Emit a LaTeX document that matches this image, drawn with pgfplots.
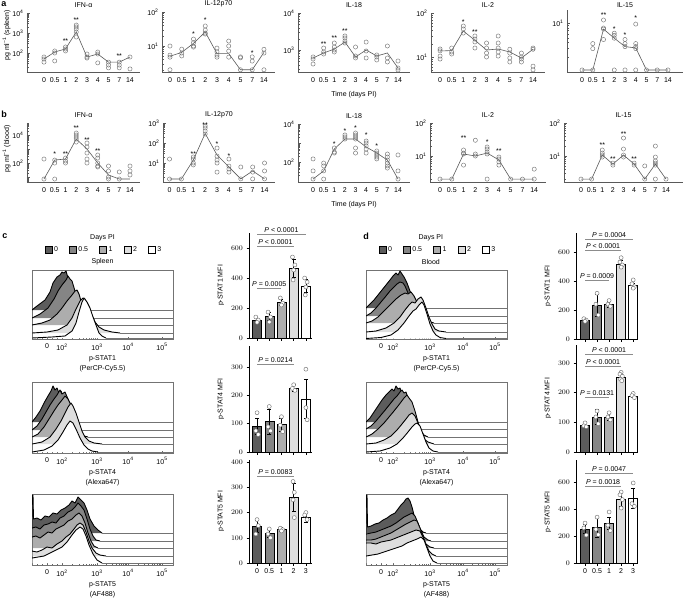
\documentclass[border=0pt]{standalone}
\usepackage{pgfplots}
\pgfplotsset{compat=1.18}
\usepackage{fontspec}
\setmainfont{Liberation Sans}
\definecolor{c0}{gray}{0.36}
\definecolor{c1}{gray}{0.52}
\definecolor{c2}{gray}{0.68}
\definecolor{c3}{gray}{0.87}
\definecolor{c4}{gray}{1}
\definecolor{ptgray}{gray}{0.45}
\definecolor{lngray}{gray}{0.35}
\newcommand\fs{\fontsize{7}{8.4}\selectfont}
\newcommand\tp[1]{10\textsuperscript{#1}}
\tikzset{zPtxt/.style={anchor=south, font=\fs, inner sep=1pt}}
\pgfplotsset{
  zCyt/.style={scale only axis, clip=false, anchor=south west,
    axis x line*=bottom, axis y line*=left,
    axis line style={lngray, line width=0.5pt},
    xtick={0,...,8}, xticklabels={0,0.5,1,2,3,4,5,7,14},
    x tick style={draw=none},
    y tick style={lngray, line width=0.4pt},
    tick align=inside, major tick length=3pt, minor tick length=1.8pt,
    minor ytick={2,3,4,5,6,7,8,9,20,30,40,50,60,70,80,90,200,300,400,500,600,700,800,900,2000,3000,4000,5000,6000,7000,8000,9000,20000,30000,40000,50000,60000,70000},
    ticklabel style={font=\fs},
    xticklabel style={yshift=-2.5pt},
    every axis title/.style={at={(0.5,1)}, anchor=south, yshift=2pt, font=\fs},
    ylabel style={font=\fs}, xlabel style={font=\fs, yshift=-2pt}},
  zPts/.style={only marks, mark=o, mark size=2.1pt, mark options={ptgray, line width=0.45pt}},
  zLine/.style={lngray, line width=0.6pt, mark=none},
  zStars/.style={draw=none, mark=none, nodes near coords, point meta=explicit symbolic,
    nodes near coords style={anchor=center, font=\fs, inner sep=0pt, yshift=-1.5pt}},
  zHist/.style={scale only axis, anchor=south west, xmin=0, xmax=141, ymin=0, clip mode=individual,
    axis line style={black!55, line width=0.5pt}, ytick=\empty, xtick pos=bottom,
    tick align=inside, major tick length=2.5pt, minor tick length=1.5pt,
    tick style={black!60, line width=0.4pt},
    ticklabel style={font=\fs}, xticklabel style={yshift=-1pt},
    xlabel style={font=\fontsize{7}{9.2}\selectfont, align=center, yshift=1pt}},
  zHistC/.style={zHist, xtick={15,30,65,96,130}, xticklabels={0,\tp{2},\tp{3},\tp{4},\tp{5}},
    minor xtick={5,10,20,25,40.5,46.7,51.1,54.5,57.2,59.6,61.6,63.4,74.3,79.8,83.7,86.7,89.1,91.2,93.0,94.6,106.2,112.2,116.5,119.8,122.5,124.7,126.7,128.4}},
  zHistD/.style={zHist, xtick={15,27,64,97,129}, xticklabels={0,\tp{2},\tp{3},\tp{4},\tp{5}},
    minor xtick={5,10,20,38.1,44.6,49.3,52.9,55.8,58.3,60.4,62.3,73.9,79.7,83.9,87.1,89.7,91.9,93.8,95.5,106.6,112.3,116.3,119.4,121.9,124.0,125.9,127.5}},
  zLeg/.style={legend entries={0,0.5,1,2,3},
    legend image code/.code={\draw[##1, line width=0.5pt] (0pt,-3.5pt) rectangle (7pt,3.5pt);},
    legend style={at={(0.51,1.29)}, anchor=center, draw=none, fill=none, font=\fs,
      legend columns=5, /tikz/every even column/.append style={column sep=9pt}}},
  zHc/.style={fill=#1, draw=black, line width=0.9pt, line join=round},
  zTl/.style={black!55, line width=0.4pt},
  zBarax/.style={scale only axis, clip=false, anchor=south west, axis x line*=bottom, axis y line*=left,
    axis line style={black, line width=0.5pt}, ymin=0, xtick={0,...,4},
    tick align=outside, major tick length=2.5pt, tick style={black, line width=0.5pt},
    ticklabel style={font=\fs}, ylabel style={font=\fs}},
  zBarc/.style={ybar, bar width=9pt, bar shift=0pt, draw=black, line width=0.5pt, fill=#1},
  zErrs/.style={draw=none, mark=none, error bars/.cd, y dir=both, y explicit,
    error bar style={draw=black, line width=0.5pt},
    error mark options={rotate=90, mark size=2pt, draw=black, line width=0.5pt}},
  zBpts/.style={only marks, mark=*, mark size=2pt, mark options={fill=white, draw=black!55, line width=0.45pt}},
  zPline/.style={black!45, line width=0.6pt},
}
\begin{document}
\begin{tikzpicture}
\path[use as bounding box] (0pt,0pt) rectangle (685pt,-598pt);
\node[font=\bfseries\fontsize{9}{10}\selectfont] at (4pt,-4pt) {a};
\node[font=\bfseries\fontsize{9}{10}\selectfont] at (4pt,-114pt) {b};
\node[font=\bfseries\fontsize{9}{10}\selectfont] at (5pt,-236pt) {c};
\node[font=\bfseries\fontsize{9}{10}\selectfont] at (366pt,-236pt) {d};

% ================= Row a =================
\begin{axis}[ymode=log, zCyt, at={(27pt,-72pt)}, width=113pt, height=59pt,
  xmin=-1.58, xmax=8.93, ymin=11.2, ymax=10000,
  ytick={100,1000,10000}, yticklabels={\tp{2},\tp{3},\tp{4}},
  title={IFN-α}, ylabel={pg ml\textsuperscript{−1} (spleen)},
  ylabel style={at={(rel axis cs:-0.18,0.62)}, anchor=center}]
\addplot[zLine] coordinates {(0,50)(1,112)(2,160)(3,1120)(4,63)(5,89)(6,35)(7,35)(8,63)};
\addplot[zPts] coordinates {(0,63)(0,50)(0,35)(1,126)(1,100)(1,40)(2,200)(2,158)(2,126)
 (3,2500)(3,2000)(3,1580)(3,1120)(3,630)(4,89)(4,63)(4,56)(5,112)(5,89)(5,32)
 (6,35)(6,25)(6,18)(7,35)(7,25)(7,18)(8,63)(8,16)};
\addplot[zStars] coordinates {(2,447)[**] (3,5012)[**] (7,79)[**]};
\end{axis}

\begin{axis}[ymode=log, zCyt, at={(162pt,-72pt)}, width=113pt, height=60pt,
  xmin=-0.68, xmax=8.94, ymin=1.72, ymax=100,
  ytick={10,100}, yticklabels={\tp{1},\tp{2}}, title={IL-12p70}]
\addplot[zLine] coordinates {(0,5)(1,6.5)(2,12)(3,25.8)(4,6)(5,6)(6,2)(7,2)(8,6.5)};
\addplot[zPts] coordinates {(0,10)(0,5.4)(0,4.7)(0,2)(1,8.1)(1,6.2)(1,5.1)(2,16)(2,12.5)(2,10)(2,9.3)
 (3,38.8)(3,29.5)(3,24)(3,22.5)(4,8.7)(4,6.7)(4,5.4)(4,4.7)(5,14)(5,10)(5,7.1)(5,4.7)
 (6,4.8)(6,4.5)(6,2)(7,4.8)(7,3.6)(7,2)(8,8)(8,6.2)(8,2)};
\addplot[zStars] coordinates {(2,24.1)[*] (3,62)[*] (7,6.7)[*]};
\end{axis}

\begin{axis}[ymode=log, zCyt, at={(298pt,-72pt)}, width=112pt, height=59pt,
  xmin=-1.42, xmax=9.13, ymin=254, ymax=10000,
  ytick={1000,10000}, yticklabels={\tp{3},\tp{4}}, title={IL-18}, xlabel={Time (days PI)}]
\addplot[zLine] coordinates {(0,608)(1,830)(2,1060)(3,1640)(4,648)(5,1000)(6,688)(7,830)(8,326)};
\addplot[zPts] coordinates {(0,648)(0,571)(0,418)(1,1130)(1,883)(1,779)(2,1546)(2,1205)(2,1000)(2,883)
 (3,2390)(3,2110)(3,1750)(3,1546)(4,1205)(4,688)(4,608)(5,1640)(5,940)(5,608)
 (6,733)(6,648)(6,537)(7,1283)(7,608)(7,474)(8,504)(8,326)(8,288)};
\addplot[zStars] coordinates {(1,1546)[**] (2,2245)[**] (3,3470)[**]};
\end{axis}

\begin{axis}[ymode=log, zCyt, at={(431pt,-72pt)}, width=114pt, height=59pt,
  xmin=-0.78, xmax=9.03, ymin=4.56, ymax=100,
  ytick={10,100}, yticklabels={\tp{1},\tp{2}}, title={IL-2}]
\addplot[zLine] coordinates {(0,13.7)(1,14)(2,39)(3,24)(4,14.4)(5,15.2)(6,13)(7,9.5)(8,15)};
\addplot[zPts] coordinates {(0,15.2)(0,13.8)(0,10.5)(0,9)(1,16)(1,13)(1,11.7)(2,50.6)(2,43.3)(2,35)
 (3,30)(3,25.6)(3,22)(3,16)(4,20.8)(4,16)(4,12.3)(4,10)(5,30)(5,20.8)(5,16)(5,13)(5,10.5)
 (6,15)(6,12.3)(6,9.5)(6,7.7)(7,12.3)(7,10)(7,9)(7,7.7)(8,16)(8,15)(8,6.2)(8,5.1)};
\addplot[zStars] coordinates {(2,69)[*] (3,39)[**]};
\end{axis}

\begin{axis}[ymode=log, zCyt, at={(567pt,-72pt)}, width=116pt, height=62pt,
  xmin=-1.4, xmax=9.4, ymin=1, ymax=18.4,
  ytick={10}, yticklabels={\tp{1}}, title={IL-15}, title style={yshift=-3pt}]
\addplot[zLine] coordinates {(0,1.1)(1,1.1)(2,7.5)(3,4.9)(4,3.3)(5,3.1)(6,1.1)(7,1.1)(8,1.1)};
\addplot[zPts] coordinates {(0,1.1)(1,3.8)(1,3.0)(1,1.1)(2,11.5)(2,7.9)(2,7.5)(2,4.6)
 (3,6.2)(3,5.6)(3,4.9)(3,1.1)(4,4.6)(4,3.8)(4,3.3)(4,1.1)(5,9.5)(5,3.8)(5,3.3)(5,3.0)(5,1.1)
 (6,1.1)(7,1.1)(8,1.1)};
\addplot[zStars] coordinates {(2,15.4)[**] (3,7.9)[*] (4,6.2)[*] (5,13.3)[*]};
\end{axis}

% ================= Row b =================
\begin{axis}[ymode=log, zCyt, at={(27pt,-182pt)}, width=113pt, height=59pt,
  xmin=-1.58, xmax=8.93, ymin=4.4, ymax=72000,
  ytick={10,100,1000,10000}, yticklabels={,\tp{2},,\tp{4}},
  title={IFN-α}, ylabel={pg ml\textsuperscript{−1} (blood)},
  ylabel style={at={(rel axis cs:-0.18,0.56)}, anchor=center}]
\addplot[zLine] coordinates {(0,7.2)(1,163)(2,193)(3,5200)(4,1000)(5,100)(6,14)(7,7.2)(8,7.2)};
\addplot[zPts] coordinates {(0,193)(0,7.2)(1,163)(1,100)(1,7.2)(2,227)(2,139)(2,100)
 (3,13900)(3,10000)(3,7200)(3,5200)(3,3160)(4,2680)(4,1390)(4,518)(4,193)(4,100)
 (5,372)(5,227)(5,100)(5,61)(5,52)(6,61)(6,27)(6,10)(6,7.2)(7,23)(7,7.2)(8,61)(8,27)(8,14)};
\addplot[zStars] coordinates {(1,518)[*] (2,518)[**] (3,37300)[**] (4,5180)[**] (5,848)[**]};
\end{axis}

\begin{axis}[ymode=log, zCyt, at={(163pt,-182pt)}, width=112pt, height=59pt,
  xmin=-0.55, xmax=8.88, ymin=1.12, ymax=1000,
  ytick={10,100,1000}, yticklabels={\tp{1},\tp{2},\tp{3}}, title={IL-12p70}]
\addplot[zLine] coordinates {(0,1.58)(1,1.58)(2,14)(3,300)(4,25)(5,6.3)(6,1.6)(7,4)(8,1.6)};
\addplot[zPts] coordinates {(0,15.8)(0,1.58)(1,1.58)(2,20)(2,15.8)(2,10)(2,8)
 (3,708)(3,562)(3,400)(3,282)(4,56)(4,22)(4,14)(4,10)(4,3.5)(5,15.8)(5,7)(5,5)(5,3.5)
 (6,6.3)(6,1.6)(7,6.3)(7,3.5)(7,1.6)(8,10)(8,4)(8,1.6)};
\addplot[zStars] coordinates {(2,31.6)[**] (3,891)[**] (4,100)[*] (5,25)[*]};
\end{axis}

\begin{axis}[ymode=log, zCyt, at={(298pt,-182pt)}, width=112pt, height=58pt,
  xmin=-1.42, xmax=9.13, ymin=8.85, ymax=10000,
  ytick={100,1000,10000}, yticklabels={\tp{2},,\tp{4}}, title={IL-18}, xlabel={Time (days PI)}]
\addplot[zLine] coordinates {(0,12.7)(1,34)(2,480)(3,1620)(4,1620)(5,620)(6,296)(7,127)(8,12.7)};
\addplot[zPts] coordinates {(0,145)(0,34)(0,12.7)(1,88)(1,62)(1,34)(1,12.7)(2,546)(2,336)(2,296)
 (3,2640)(3,2070)(3,1620)(4,3360)(4,2640)(4,2070)(4,1620)(4,546)(4,296)
 (5,1270)(5,1000)(5,700)(5,480)(5,296)(6,380)(6,296)(6,234)(6,183)(6,145)
 (7,263)(7,183)(7,127)(7,88)(7,62)(7,48)(8,234)(8,34)(8,12.7)};
\addplot[zStars] coordinates {(2,1000)[*] (3,4830)[*] (4,6950)[*] (5,2980)[*] (6,785)[*]};
\end{axis}

\begin{axis}[ymode=log, zCyt, at={(430pt,-182pt)}, width=116pt, height=59pt,
  xmin=-0.85, xmax=9.0, ymin=1.63, ymax=100,
  ytick={10,100}, yticklabels={\tp{1},\tp{2}}, title={IL-2}]
\addplot[zLine] coordinates {(0,2)(1,2)(2,11.5)(3,10)(4,12.3)(5,7.6)(6,2)(7,2)(8,2)};
\addplot[zPts] coordinates {(0,2)(1,2)(2,15.2)(2,12.3)(2,11.5)(2,5.3)(3,30)(3,11.5)(3,10)
 (4,18.7)(4,16.3)(4,13.2)(4,11.5)(4,2)(5,9.3)(5,8.1)(5,6.6)(5,5.3)(6,2)(7,2)(8,4)(8,2)};
\addplot[zStars] coordinates {(2,37.6)[**] (4,28.5)[*] (5,15.2)[**]};
\end{axis}

\begin{axis}[ymode=log, zCyt, at={(564pt,-182pt)}, width=119pt, height=59pt,
  xmin=-1.6, xmax=9.6, ymin=1.63, ymax=100,
  ytick={10,100}, yticklabels={\tp{1},\tp{2}}, title={IL-15}]
\addplot[zLine] coordinates {(0,2)(1,2)(2,10.7)(3,5.7)(4,10.7)(5,5.7)(6,2)(7,5.7)(8,2)};
\addplot[zPts] coordinates {(0,2)(1,2)(2,15.2)(2,12.3)(2,10.7)(2,9.3)(3,6.1)(3,5.3)
 (4,35)(4,16.3)(4,10.7)(4,9.3)(5,6.1)(5,5.3)(6,5)(6,2)
 (7,20)(7,9.3)(7,7.1)(7,6.1)(7,5.3)(7,2)(8,2)};
\addplot[zStars] coordinates {(2,23)[**] (3,8.7)[**] (4,53)[**] (5,8.7)[**]};
\end{axis}

% ================= Histograms c =================
\begin{axis}[zHistC, zLeg, at={(32pt,-339pt)}, width=141pt, height=69pt, ymax=69,
  xlabel={p-STAT1\\(PerCP-Cy5.5)}]
\addlegendimage{fill=c0, draw=black}
\addlegendimage{fill=c1, draw=black}
\addlegendimage{fill=c2, draw=black}
\addlegendimage{fill=c3, draw=black}
\addlegendimage{fill=c4, draw=black}
\node[font=\fs] at (rel axis cs:0.5,1.46) {Days PI};
\node[font=\fs] at (rel axis cs:0.5,1.12) {Spleen};
\addplot[zHc=c0] coordinates {(0,29)(5,33)(13,39)(18,47)(21,56)(25,62)(28,64)(30,67)(32,66)(34,68)(36,61)(38,56)(41,48)(44,38)(47,29)};
\addplot[zTl] coordinates {(47,29)(141,29)};
\addplot[zHc=c1] coordinates {(0,21)(8,25)(16,31)(22,40)(26,48)(30,54)(34,59)(36,63)(38,60)(40,58)(43,48)(46,38)(49,29)(52,23)(55,21)};
\addplot[zTl] coordinates {(55,21)(141,21)};
\addplot[zHc=c2] coordinates {(0,14)(10,16)(18,19)(25,25)(30,31)(35,38)(40,44)(43,48)(45,49)(47,45)(49,38)(51,28)(53,18)(56,14)};
\addplot[zTl] coordinates {(56,14)(141,14)};
\addplot[zHc=c3] coordinates {(0,6)(15,7)(26,9)(35,14)(40,21)(44,30)(48,38)(51,41)(53,40)(56,33)(59,26)(63,17)(67,12)(72,9)(80,7)(88,6)};
\addplot[zTl] coordinates {(88,6)(141,6)};
\addplot[zHc=c4] coordinates {(0,1)(20,2)(33,3)(40,8)(44,16)(47,27)(50,37)(52,41)(55,37)(58,31)(61,22)(64,14)(67,6)(70,3)(74,1)};
\addplot[zTl] coordinates {(74,1)(141,1)};
\end{axis}

\begin{axis}[zHistC, at={(32pt,-453pt)}, width=141pt, height=71pt, ymax=71,
  xlabel={p-STAT4\\(Alexa647)}]
\addplot[zHc=c0] coordinates {(0,31)(4,36)(8,42)(12,50)(16,57)(19,62)(21,67)(23,63)(25,65)(27,60)(29,62)(31,57)(34,48)(37,40)(40,33)(43,31)};
\addplot[zTl] coordinates {(43,31)(141,31)};
\addplot[zHc=c1] coordinates {(0,23)(5,27)(10,34)(14,41)(18,48)(22,54)(25,58)(28,63)(30,59)(33,61)(36,54)(39,44)(42,34)(45,26)(49,23)};
\addplot[zTl] coordinates {(49,23)(141,23)};
\addplot[zHc=c2] coordinates {(0,16)(6,19)(12,26)(17,34)(22,42)(26,48)(30,53)(33,57)(36,54)(39,48)(42,38)(45,28)(48,21)(52,17)(56,16)};
\addplot[zTl] coordinates {(56,16)(141,16)};
\addplot[zHc=c3] coordinates {(0,9)(10,11)(18,16)(24,24)(29,32)(33,40)(36,46)(39,50)(41,47)(44,40)(47,31)(50,22)(53,16)(57,12)(62,10)(70,9)};
\addplot[zTl] coordinates {(70,9)(141,9)};
\addplot[zHc=c4] coordinates {(0,1)(12,3)(20,7)(26,13)(31,21)(35,28)(38,32)(41,30)(44,24)(48,15)(52,8)(56,4)(60,2)(66,1)};
\addplot[zTl] coordinates {(66,1)(141,1)};
\end{axis}

\begin{axis}[zHistC, at={(32pt,-565pt)}, width=141pt, height=71pt, ymax=71,
  xlabel={p-STAT5\\(AF488)}]
\addplot[zHc=c0] coordinates {(0,32)(0,70)(1,70)(1.5,46)(5,47)(9,45)(13,49)(17,48)(21,52)(25,51)(29,55)(33,57)(37,60)(40,64)(43,62)(46,68)(49,65)(52,62)(55,55)(58,46)(62,39)(66,35)(70,32)};
\addplot[zTl] coordinates {(70,32)(141,32)};
\addplot[zHc=c1] coordinates {(0,24)(0,37)(4,38)(8,36)(12,40)(16,41)(20,43)(24,42)(28,47)(32,49)(36,53)(40,55)(43,58)(46,62)(49,59)(52,55)(55,46)(58,36)(61,29)(64,25)(68,24)};
\addplot[zTl] coordinates {(68,24)(141,24)};
\addplot[zHc=c2] coordinates {(0,17)(0,28)(4,29)(8,27)(12,30)(16,33)(20,32)(24,36)(28,38)(32,40)(36,44)(40,46)(44,50)(47,52)(50,49)(53,42)(56,32)(59,24)(62,19)(66,17)};
\addplot[zTl] coordinates {(66,17)(141,17)};
\addplot[zHc=c3] coordinates {(0,9)(0,14)(5,13)(10,15)(15,18)(20,17)(25,21)(30,24)(34,28)(38,31)(42,36)(45,40)(48,42)(51,40)(54,33)(57,24)(60,17)(64,12)(68,10)(74,9)};
\addplot[zTl] coordinates {(74,9)(141,9)};
\addplot[zHc=c4] coordinates {(0,2)(0,7)(6,8)(12,9)(18,12)(24,15)(30,18)(35,23)(40,30)(44,35)(48,38)(51,36)(54,29)(57,20)(61,11)(65,5)(70,2)};
\addplot[zTl] coordinates {(70,2)(141,2)};
\end{axis}

% ================= Histograms d =================
\begin{axis}[zHistD, zLeg, at={(366pt,-339pt)}, width=141pt, height=69pt, ymax=69,
  xlabel={p-STAT1\\(PerCP-Cy5.5)}]
\addlegendimage{fill=c0, draw=black}
\addlegendimage{fill=c1, draw=black}
\addlegendimage{fill=c2, draw=black}
\addlegendimage{fill=c3, draw=black}
\addlegendimage{fill=c4, draw=black}
\node[font=\fs] at (rel axis cs:0.46,1.46) {Days PI};
\node[font=\fs] at (rel axis cs:0.46,1.11) {Blood};
\addplot[zHc=c0] coordinates {(0,31)(4,35)(8,39)(12,44)(16,49)(20,54)(24,59)(27,63)(30,66)(32,64)(34,68)(36,65)(38,62)(41,56)(44,48)(47,40)(50,34)(53,31)};
\addplot[zTl] coordinates {(53,31)(141,31)};
\addplot[zHc=c1] coordinates {(0,23)(5,26)(10,31)(15,37)(20,43)(24,48)(28,52)(31,55)(34,57)(37,56)(39,53)(42,46)(45,38)(48,31)(52,26)(56,23)};
\addplot[zTl] coordinates {(56,23)(141,23)};
\addplot[zHc=c2] coordinates {(0,16)(6,18)(12,22)(18,28)(24,34)(30,40)(35,44)(39,46)(42,45)(45,47)(48,43)(52,35)(56,26)(60,20)(64,17)(68,16)};
\addplot[zTl] coordinates {(68,16)(141,16)};
\addplot[zHc=c3] coordinates {(0,7)(10,8)(20,11)(28,16)(34,22)(39,29)(43,34)(46,37)(49,36)(52,40)(55,42)(57,39)(60,31)(63,22)(66,15)(69,10)(73,8)(80,7)};
\addplot[zTl] coordinates {(80,7)(141,7)};
\addplot[zHc=c4] coordinates {(0,0.5)(15,1.5)(25,4)(32,9)(38,16)(43,23)(47,28)(50,30)(53,34)(56,37)(58,34)(61,25)(64,15)(67,8)(70,4)(74,1.5)(80,0.5)};
\addplot[zTl] coordinates {(80,0.5)(141,0.5)};
\end{axis}

\begin{axis}[zHistD, at={(366pt,-453pt)}, width=141pt, height=71pt, ymax=71,
  xlabel={p-STAT4\\(Alexa647)}]
\addplot[zHc=c0] coordinates {(0,31)(4,35)(8,41)(12,47)(16,53)(20,58)(23,61)(26,64)(28,62)(30,67)(32,64)(34,65)(36,59)(39,50)(42,41)(45,35)(48,31)};
\addplot[zTl] coordinates {(48,31)(141,31)};
\addplot[zHc=c1] coordinates {(0,24)(5,27)(10,32)(15,38)(20,44)(24,49)(28,54)(31,57)(34,61)(36,63)(38,60)(40,61)(43,52)(46,41)(49,32)(52,26)(55,24)};
\addplot[zTl] coordinates {(55,24)(141,24)};
\addplot[zHc=c2] coordinates {(0,16)(6,19)(12,24)(18,30)(23,36)(28,42)(32,47)(35,51)(38,55)(41,58)(43,55)(46,51)(49,42)(52,31)(55,22)(58,18)(62,16)};
\addplot[zTl] coordinates {(62,16)(141,16)};
\addplot[zHc=c3] coordinates {(0,9)(10,10)(18,13)(25,17)(31,23)(36,29)(40,34)(43,38)(46,40)(49,37)(52,30)(55,21)(58,14)(62,11)(68,9)};
\addplot[zTl] coordinates {(68,9)(141,9)};
\addplot[zHc=c4] coordinates {(0,1)(14,2)(24,5)(31,9)(37,15)(42,21)(46,26)(49,29)(51,30)(54,27)(57,19)(60,11)(63,5)(67,2)(72,1)};
\addplot[zTl] coordinates {(72,1)(141,1)};
\end{axis}

\begin{axis}[zHistD, at={(366pt,-565pt)}, width=141pt, height=71pt, ymax=71,
  xlabel={p-STAT5\\(AF488)}]
\addplot[zHc=c0] coordinates {(0,32)(0,70)(1,70)(1.5,38)(5,39)(9,41)(13,42)(17,45)(21,47)(25,50)(29,52)(32,56)(35,60)(38,63)(40,66)(42,67)(44,64)(46,58)(48,50)(51,42)(54,36)(57,33)(60,32)};
\addplot[zTl] coordinates {(60,32)(141,32)};
\addplot[zHc=c1] coordinates {(0,24)(0,31)(5,32)(10,33)(15,35)(20,37)(25,39)(30,42)(34,45)(38,48)(42,50)(46,52)(49,49)(52,42)(55,34)(58,28)(62,25)(65,24)};
\addplot[zTl] coordinates {(65,24)(141,24)};
\addplot[zHc=c2] coordinates {(0,17)(0,25)(5,25)(10,26)(15,28)(20,30)(25,32)(30,35)(35,38)(40,41)(44,43)(48,45)(51,44)(54,37)(57,28)(60,21)(64,18)(68,17)};
\addplot[zTl] coordinates {(68,17)(141,17)};
\addplot[zHc=c3] coordinates {(0,9)(0,22)(5,22)(10,21)(15,23)(20,24)(25,25)(30,27)(35,29)(40,31)(45,33)(50,35)(54,34)(57,28)(60,20)(63,14)(66,11)(70,9)};
\addplot[zTl] coordinates {(70,9)(141,9)};
\addplot[zHc=c4] coordinates {(0,2)(0,9)(6,10)(12,11)(18,13)(24,15)(30,17)(36,19)(41,22)(46,24)(51,26)(55,28)(58,25)(61,17)(64,9)(67,4)(71,2)};
\addplot[zTl] coordinates {(71,2)(141,2)};
\end{axis}

% ================= Bars c =================
\begin{axis}[zBarax, at={(249pt,-338pt)}, width=63pt, height=105pt,
  xmin=-0.66, xmax=4.5, ymax=700, ytick={0,200,400,600}, xticklabels=\empty,
  ylabel={p-STAT1 MFI}]
\addplot[zBarc=c0] coordinates {(0,120)};
\addplot[zBarc=c1] coordinates {(1,147)};
\addplot[zBarc=c2] coordinates {(2,240)};
\addplot[zBarc=c3] coordinates {(3,465)};
\addplot[zBarc=c4] coordinates {(4,347)};
\addplot[zErrs] coordinates {(0,120) +- (0,15) (1,147) +- (0,28) (2,240) +- (0,20) (3,465) +- (0,60) (4,347) +- (0,45)};
\addplot[zBpts] coordinates {(-0.1,140)(0.1,120)(0,105)(0.9,173)(1.1,140)(1,107)(1.9,267)(2.1,233)(2,220)
 (2.9,540)(3.1,487)(3,453)(2.95,387)(3.9,400)(4.1,373)(4,340)(3.95,287)};
\addplot[zPline] coordinates {(0,693)(4,693)};
\node[zPtxt] at (axis cs:2,693) {\textit{P} < 0.0001};
\addplot[zPline] coordinates {(0,613)(3,613)};
\node[zPtxt] at (axis cs:1.5,613) {\textit{P} < 0.0001};
\addplot[zPline] coordinates {(0,333)(2,333)};
\node[zPtxt] at (axis cs:1,333) {\textit{P} = 0.0005};
\end{axis}

\begin{axis}[zBarax, at={(249pt,-452pt)}, width=63pt, height=106pt,
  xmin=-0.66, xmax=4.5, ymax=375, ytick={0,100,200,300}, xticklabels=\empty,
  ylabel={p-STAT4 MFI}]
\addplot[zBarc=c0] coordinates {(0,92)};
\addplot[zBarc=c1] coordinates {(1,108)};
\addplot[zBarc=c2] coordinates {(2,97)};
\addplot[zBarc=c3] coordinates {(3,226)};
\addplot[zBarc=c4] coordinates {(4,188)};
\addplot[zErrs] coordinates {(0,92) +- (0,28) (1,108) +- (0,45) (2,97) +- (0,22) (3,226) +- (0,12) (4,188) +- (0,70)};
\addplot[zBpts] coordinates {(0,139)(-0.1,75)(0.1,62)(1,161)(0.9,89)(1.1,75)(2,125)(1.9,95)(2.1,72)
 (3,238)(2.9,225)(3.1,218)(4,293)(4,157)(4.1,114)};
\addplot[zPline] coordinates {(0,311)(3,311)};
\node[zPtxt] at (axis cs:1.5,311) {\textit{P} = 0.0214};
\end{axis}

\begin{axis}[zBarax, at={(249pt,-563pt)}, width=63pt, height=103.5pt,
  xmin=-0.66, xmax=4.5, ymax=410, ytick={0,100,200,300,400}, xticklabels={0,0.5,1,2,3},
  ylabel={p-STAT5 MFI}]
\addplot[zBarc=c0] coordinates {(0,145)};
\addplot[zBarc=c1] coordinates {(1,117)};
\addplot[zBarc=c2] coordinates {(2,132)};
\addplot[zBarc=c3] coordinates {(3,260)};
\addplot[zBarc=c4] coordinates {(4,183)};
\addplot[zErrs] coordinates {(0,145) +- (0,25) (1,117) +- (0,15) (2,132) +- (0,8) (3,260) +- (0,55) (4,183) +- (0,20)};
\addplot[zBpts] coordinates {(0,172)(0.1,148)(-0.1,115)(1,135)(0.9,115)(1.1,100)(1.9,138)(2.1,132)(2,127)
 (2.95,323)(3.05,280)(2.95,250)(3.05,180)(4,200)(3.9,190)(4.1,172)};
\addplot[zPline] coordinates {(0,345)(3,345)};
\node[zPtxt] at (axis cs:1.5,345) {\textit{P} = 0.0083};
\end{axis}

% ================= Bars d =================
\begin{axis}[zBarax, at={(576pt,-339pt)}, width=62pt, height=106pt,
  xmin=-0.75, xmax=4.4, ymax=730, ytick={0,200,400,600}, xticklabels=\empty,
  ylabel={p-STAT1 MFI}]
\addplot[zBarc=c0] coordinates {(0,131)};
\addplot[zBarc=c1] coordinates {(1,234)};
\addplot[zBarc=c2] coordinates {(2,241)};
\addplot[zBarc=c3] coordinates {(3,517)};
\addplot[zBarc=c4] coordinates {(4,372)};
\addplot[zErrs] coordinates {(0,131) +- (0,10) (1,234) +- (0,75) (2,241) +- (0,20) (3,517) +- (0,22) (4,372) +- (0,15)};
\addplot[zBpts] coordinates {(-0.1,140)(0.1,130)(0,122)(1,315)(0.9,240)(1.1,165)(2,265)(1.9,240)(2.1,225)
 (3,560)(2.9,530)(3.1,510)(3,495)(4,407)(3.9,380)(4.1,360)(4,350)};
\addplot[zPline] coordinates {(0,690)(4,690)};
\node[zPtxt] at (axis cs:2,690) {\textit{P} = 0.0004};
\addplot[zPline] coordinates {(0,614)(3,614)};
\node[zPtxt] at (axis cs:1.5,614) {\textit{P} < 0.0001};
\addplot[zPline] coordinates {(0,407)(2,407)};
\node[zPtxt] at (axis cs:1,407) {\textit{P} = 0.0009};
\end{axis}

\begin{axis}[zBarax, at={(576pt,-452pt)}, width=62pt, height=107pt,
  xmin=-0.75, xmax=4.4, ymax=360, ytick={0,100,200,300}, xticklabels=\empty,
  ylabel={p-STAT4 MFI}]
\addplot[zBarc=c0] coordinates {(0,91)};
\addplot[zBarc=c1] coordinates {(1,118)};
\addplot[zBarc=c2] coordinates {(2,118)};
\addplot[zBarc=c3] coordinates {(3,253)};
\addplot[zBarc=c4] coordinates {(4,189)};
\addplot[zErrs] coordinates {(0,91) +- (0,8) (1,118) +- (0,25) (2,118) +- (0,12) (3,253) +- (0,10) (4,189) +- (0,6)};
\addplot[zBpts] coordinates {(0,98)(-0.1,88)(0.1,85)(1,138)(0.9,118)(1.1,95)(2,132)(1.9,118)(2.1,108)
 (3,268)(2.9,262)(3.1,255)(2.95,245)(3.05,240)(4,197)(3.9,190)(4.1,183)};
\addplot[zPline] coordinates {(0,330)(4,330)};
\node[zPtxt] at (axis cs:2,330) {\textit{P} < 0.0001};
\addplot[zPline] coordinates {(0,290)(3,290)};
\node[zPtxt] at (axis cs:1.5,290) {\textit{P} < 0.0001};
\addplot[zPline] coordinates {(0,185)(2,185)};
\node[zPtxt] at (axis cs:1,185) {\textit{P} = 0.0131};
\end{axis}

\begin{axis}[zBarax, at={(576pt,-563pt)}, width=62pt, height=102.6pt,
  xmin=-0.75, xmax=4.4, ymax=760, ytick={0,200,400,600}, xticklabels={0,0.5,1,2,3},
  ylabel={p-STAT5 MFI}]
\addplot[zBarc=c0] coordinates {(0,252)};
\addplot[zBarc=c1] coordinates {(1,267)};
\addplot[zBarc=c2] coordinates {(2,296)};
\addplot[zBarc=c3] coordinates {(3,474)};
\addplot[zBarc=c4] coordinates {(4,481)};
\addplot[zErrs] coordinates {(0,252) +- (0,35) (1,267) +- (0,73) (2,296) +- (0,45) (3,474) +- (0,55) (4,481) +- (0,75)};
\addplot[zBpts] coordinates {(0,296)(-0.1,260)(0.1,207)(1,340)(0.9,250)(1.1,210)(2,378)(1.9,280)(2.1,240)
 (3,526)(2.9,505)(3.1,470)(3,407)(4,593)(3.9,440)(4.1,420)};
\addplot[zPline] coordinates {(0,667)(4,667)};
\node[zPtxt] at (axis cs:2,667) {\textit{P} = 0.0047};
\addplot[zPline] coordinates {(0,570)(3,570)};
\node[zPtxt] at (axis cs:1.5,570) {\textit{P} = 0.0018};
\end{axis}
\end{tikzpicture}
\end{document}
